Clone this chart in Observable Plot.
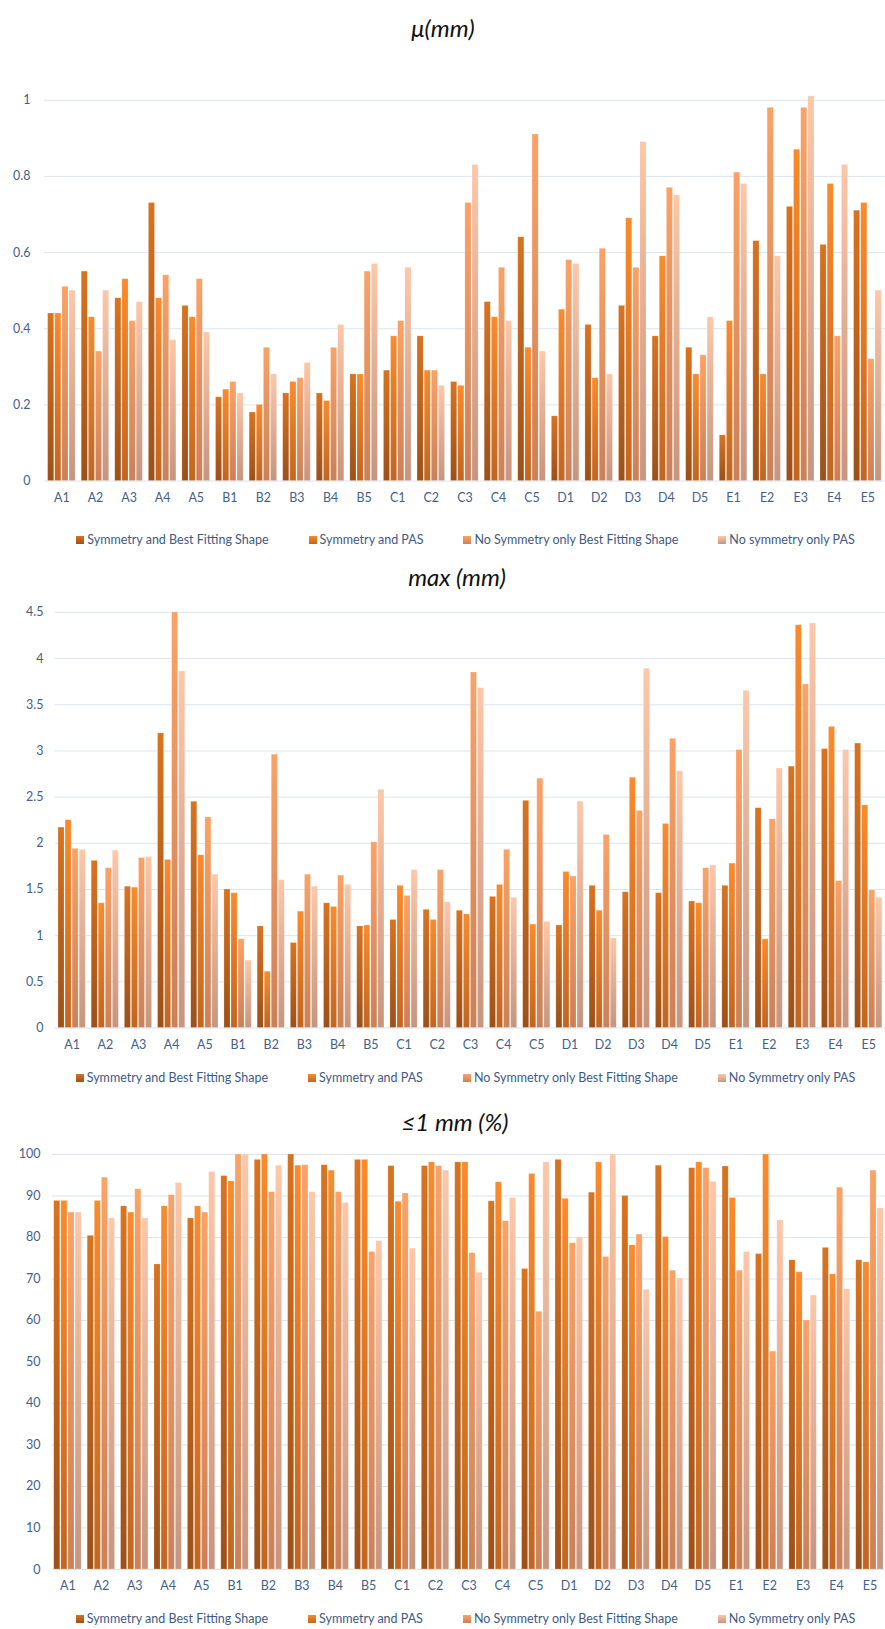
<!DOCTYPE html>
<html><head><meta charset="utf-8">
<script src="https://cdn.jsdelivr.net/npm/d3@7"></script>
<script src="https://cdn.jsdelivr.net/npm/@observablehq/plot@0.6"></script>
<style>
body{margin:0;background:#fff;overflow:hidden;width:885px;height:1629px;position:relative;font-family:Lato,"Open Sans",sans-serif;}
.blk{position:absolute;left:0;}
.title{position:absolute;left:0;width:885px;text-align:center;font-style:italic;font-size:24px;color:#111;line-height:28px;}
.legend{position:absolute;left:0;width:885px;box-sizing:border-box;padding-left:46px;display:flex;justify-content:center;gap:40px;font-size:12.5px;color:#3f5a85;line-height:16px;white-space:nowrap;}
.legend .item{display:flex;align-items:center;gap:3px;}
</style></head>
<body>
<svg width="0" height="0" style="position:absolute"><defs>
<linearGradient id="grad0" x1="0" y1="0" x2="0" y2="1"><stop offset="0" stop-color="#d9731f"/><stop offset="1" stop-color="#9c5018"/></linearGradient>
<linearGradient id="grad1" x1="0" y1="0" x2="0" y2="1"><stop offset="0" stop-color="#fb8b2b"/><stop offset="1" stop-color="#c2651f"/></linearGradient>
<linearGradient id="grad2" x1="0" y1="0" x2="0" y2="1"><stop offset="0" stop-color="#fba266"/><stop offset="1" stop-color="#cc8057"/></linearGradient>
<linearGradient id="grad3" x1="0" y1="0" x2="0" y2="1"><stop offset="0" stop-color="#fdc7a9"/><stop offset="1" stop-color="#c6957f"/></linearGradient>
</defs></svg>
<div id="root"></div>
<script>
const categories = ["A1","A2","A3","A4","A5","B1","B2","B3","B4","B5","C1","C2","C3","C4","C5","D1","D2","D3","D4","D5","E1","E2","E3","E4","E5"];

const legendNamesMu = ["Symmetry and Best Fitting Shape","Symmetry and PAS","No Symmetry only Best Fitting Shape","No symmetry only PAS"];
const legendNamesOther = ["Symmetry and Best Fitting Shape","Symmetry and PAS","No Symmetry only Best Fitting Shape","No Symmetry only PAS"];

const muSymBFS   = [0.44,0.55,0.48,0.73,0.46,0.22,0.18,0.23,0.23,0.28,0.29,0.38,0.26,0.47,0.64,0.17,0.41,0.46,0.38,0.35,0.12,0.63,0.72,0.62,0.71];
const muSymPAS   = [0.44,0.43,0.53,0.48,0.43,0.24,0.20,0.26,0.21,0.28,0.38,0.29,0.25,0.43,0.35,0.45,0.27,0.69,0.59,0.28,0.42,0.28,0.87,0.78,0.73];
const muNoSymBFS = [0.51,0.34,0.42,0.54,0.53,0.26,0.35,0.27,0.35,0.55,0.42,0.29,0.73,0.56,0.91,0.58,0.61,0.56,0.77,0.33,0.81,0.98,0.98,0.38,0.32];
const muNoSymPAS = [0.50,0.50,0.47,0.37,0.39,0.23,0.28,0.31,0.41,0.57,0.56,0.25,0.83,0.42,0.34,0.57,0.28,0.89,0.75,0.43,0.78,0.59,1.01,0.83,0.50];

const maxSymBFS   = [2.17,1.81,1.53,3.19,2.45,1.50,1.10,0.92,1.35,1.10,1.17,1.28,1.27,1.42,2.46,1.11,1.54,1.47,1.46,1.37,1.54,2.38,2.83,3.02,3.08];
const maxSymPAS   = [2.25,1.35,1.52,1.82,1.87,1.46,0.61,1.26,1.31,1.11,1.54,1.17,1.23,1.55,1.12,1.69,1.27,2.71,2.21,1.35,1.78,0.96,4.36,3.26,2.41];
const maxNoSymBFS = [1.94,1.73,1.84,4.50,2.28,0.96,2.96,1.66,1.65,2.01,1.43,1.71,3.85,1.93,2.70,1.64,2.09,2.35,3.13,1.73,3.01,2.26,3.72,1.59,1.49];
const maxNoSymPAS = [1.93,1.92,1.85,3.86,1.66,0.73,1.60,1.53,1.55,2.58,1.71,1.36,3.68,1.41,1.15,2.45,0.97,3.89,2.78,1.76,3.65,2.81,4.38,3.01,1.41];

const pctSymBFS   = [88.8,80.4,87.5,73.5,84.6,94.8,98.7,100,97.4,98.7,97.2,97.2,98.1,88.7,72.4,98.7,90.8,90.0,97.3,96.7,97.1,76.0,74.5,77.5,74.5];
const pctSymPAS   = [88.8,88.8,86.0,87.5,87.5,93.5,100,97.3,96.1,98.7,88.6,98.1,98.1,93.3,95.3,89.3,98.1,78.1,80.1,98.1,89.5,100,71.6,71.1,74.0];
const pctNoSymBFS = [86.0,94.4,91.6,90.2,86.0,100,90.9,97.4,90.9,76.5,90.6,97.2,76.2,83.9,62.1,78.6,75.3,80.7,72.0,96.7,72.0,52.5,60.0,92.0,96.1];
const pctNoSymPAS = [86.0,84.6,84.6,93.1,95.8,100,97.3,90.9,88.3,79.1,77.3,96.1,71.5,89.5,98.1,80.0,100,67.4,70.1,93.4,76.5,84.1,66.0,67.5,87.0];

const muTicks  = [0,0.2,0.4,0.6,0.8,1];
const maxTicks = [0,0.5,1,1.5,2,2.5,3,3.5,4,4.5];
const pctTicks = [0,10,20,30,40,50,60,70,80,90,100];

const gridColor = "#dae4f1";
const labelColor = "#44608a";

function panel({series, ticks, domain, width, height, marginLeft, marginTop, paddingOuter, tickPadY}) {
  const n = categories.length, pi = 0.15;
  const step = (width - marginLeft) / (n - pi + 2 * paddingOuter);
  const slot = step * (1 - pi) / 4;
  const marks = [Plot.ruleY(ticks, {stroke: gridColor, strokeWidth: 1})];
  series.forEach((vals, i) => {
    const data = vals.map((v, j) => ({cat: categories[j], value: v}));
    marks.push(Plot.barY(data, {
      x: "cat", y: "value", fill: `url(#grad${i})`,
      insetLeft: i * slot + 0.5, insetRight: (3 - i) * slot + 0.5,
      stroke: "#ffffff", strokeOpacity: 0.35, strokeWidth: 0.6
    }));
  });
  return Plot.plot({
    width, height, marginLeft, marginRight: 0, marginTop, marginBottom: 30,
    style: {fontFamily: "Lato, 'Open Sans', sans-serif", fontSize: "12.5px", color: labelColor, background: "transparent", overflow: "visible"},
    x: {type: "band", domain: categories, paddingInner: pi, paddingOuter, round: false, label: null, tickSize: 0, tickPadding: 12},
    y: {domain, ticks, tickFormat: d => String(d), tickSize: 0, tickPadding: tickPadY, label: null},
    marks
  });
}

function legend(names, top) {
  const div = document.createElement("div");
  div.className = "legend";
  div.style.top = top + "px";
  names.forEach((name, i) => {
    const it = document.createElement("span");
    it.className = "item";
    it.innerHTML = `<svg width="8" height="8"><rect width="8" height="8" fill="url(#grad${i})"/></svg><span>${name}</span>`;
    div.appendChild(it);
  });
  document.body.appendChild(div);
}

function title(text, top, centerX) {
  const d = document.createElement("div");
  d.className = "title";
  d.style.top = top + "px";
  d.style.left = (centerX - 442.5) + "px";
  d.textContent = text;
  document.body.appendChild(d);
}

function place(svg, top) {
  const w = document.createElement("div");
  w.className = "blk";
  w.style.top = top + "px";
  w.appendChild(svg);
  document.body.appendChild(w);
}

// Panel 1
title("μ(mm)", 14, 443);
place(panel({series: [muSymBFS, muSymPAS, muNoSymBFS, muNoSymPAS], ticks: muTicks, domain: [0, 1],
  width: 890, height: 463, marginLeft: 44, marginTop: 50, paddingOuter: 0.1, tickPadY: 14}), 50);
legend(legendNamesMu, 532);

// Panel 2
title("max (mm)", 563, 457);
place(panel({series: [maxSymBFS, maxSymPAS, maxNoSymBFS, maxNoSymPAS], ticks: maxTicks, domain: [0, 4.5],
  width: 888, height: 469, marginLeft: 55, marginTop: 22, paddingOuter: 0.08, tickPadY: 12}), 590);
legend(legendNamesOther, 1070);

// Panel 3
title("≤1 mm (%)", 1108, 455);
place(panel({series: [pctSymBFS, pctSymPAS, pctNoSymBFS, pctNoSymPAS], ticks: pctTicks, domain: [0, 100],
  width: 887, height: 465, marginLeft: 52, marginTop: 19, paddingOuter: 0.04, tickPadY: 12}), 1135);
legend(legendNamesOther, 1611);
</script>
</body></html>
